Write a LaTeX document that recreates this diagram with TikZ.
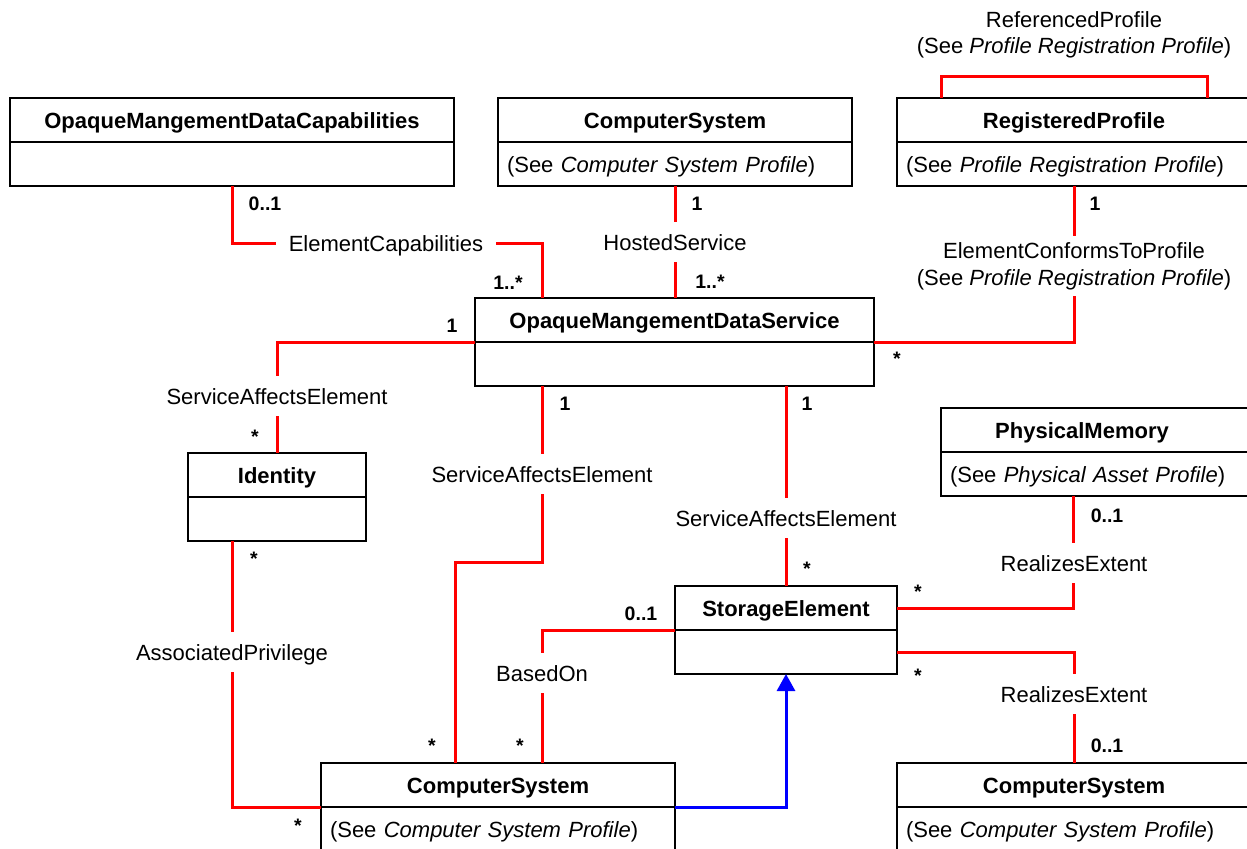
\documentclass[tikz,border=0pt]{standalone}
\usepackage{fontspec}
\setmainfont{Liberation Sans}
\usetikzlibrary{arrows.meta,calc}
\begin{document}
\begin{tikzpicture}[x=0.5pt,y=-0.5pt,
  hd/.style={draw=black, line width=1pt, anchor=north west, inner sep=0pt, outer sep=0pt, minimum height=22pt, text height=8pt, text depth=0pt, font=\fontsize{11}{13.5}\selectfont\bfseries},
  bd/.style={draw=black, line width=1pt, anchor=north west, inner xsep=4.5pt, inner ysep=0pt, outer sep=0pt, minimum height=22pt, text height=8pt, text depth=0pt, align=left, font=\fontsize{11}{13.5}\selectfont},
  assoc/.style={draw=red, line width=1.5pt},
  gen/.style={draw=blue, line width=1.5pt, -{Triangle[length=8.5pt,width=9pt]}},
  lbl/.style={fill=white, inner xsep=6.5pt, inner ysep=6pt, text height=8pt, text depth=0pt, font=\fontsize{11}{13.5}\selectfont},
  txt/.style={inner sep=0pt, text height=8pt, text depth=0pt, font=\fontsize{11}{13.5}\selectfont},
  mult/.style={inner sep=0pt, font=\fontsize{9.75}{12}\selectfont\bfseries}]
\useasboundingbox (0,0) rectangle (1247,848);
\clip (0,0) rectangle (1247,848);

% classes
\node[hd, minimum width=222pt] (omdcT) at (10,98) {OpaqueMangementDataCapabilities};
\node[bd, minimum width=222pt] (omdcB) at (omdcT.south west) {};

\node[hd, minimum width=177pt] (cs1T) at (498,98) {ComputerSystem};
\node[bd, text width=168pt] (cs1B) at (cs1T.south west) {(See \textit{Computer System Profile})};

\node[hd, minimum width=177pt] (rpT) at (897,98) {RegisteredProfile};
\node[bd, text width=168pt] (rpB) at (rpT.south west) {(See \textit{Profile Registration Profile})};

\node[hd, minimum width=199.5pt] (omdsT) at (475,298) {OpaqueMangementDataService};
\node[bd, minimum width=199.5pt] (omdsB) at (omdsT.south west) {};

\node[hd, minimum width=89pt] (idT) at (188,453) {Identity};
\node[bd, minimum width=89pt] (idB) at (idT.south west) {};

\node[hd, minimum width=155pt] (pmT) at (941,408) {};
\node[txt, font=\fontsize{11}{13.5}\selectfont\bfseries] (pmTitle) at (1082,430) {PhysicalMemory};
\node[bd, text width=146pt] (pmB) at (pmT.south west) {(See \textit{Physical Asset Profile})};

\node[hd, minimum width=111pt] (seT) at (675,586) {StorageElement};
\node[bd, minimum width=111pt] (seB) at (seT.south west) {};

\node[hd, minimum width=177pt] (cs2T) at (321,763) {ComputerSystem};
\node[bd, text width=168pt] (cs2B) at (cs2T.south west) {(See \textit{Computer System Profile})};

\node[hd, minimum width=177pt] (cs3T) at (897,763) {ComputerSystem};
\node[bd, text width=168pt] (cs3B) at (cs3T.south west) {(See \textit{Computer System Profile})};

% label coordinates
\coordinate (ecC) at (386,243);
\coordinate (hsC) at (675,242);
\coordinate (ectpC) at (1074,266);
\coordinate (sae1C) at (277,396);
\coordinate (sae2C) at (542,474);
\coordinate (sae3C) at (786,518);
\coordinate (apC) at (232,652);
\coordinate (boC) at (542,673);
\coordinate (re1C) at (1074,563);
\coordinate (re2C) at (1074,694);

% connectors
\draw[assoc] (omdcB.south) |- (ecC) -| ($(omdsT.north west)+(67,0)$);
\draw[assoc] (cs1B.south) -- (cs1B.south |- omdsT.north);
\draw[assoc] (rpB.south) |- (omdsT.south east);
\draw[assoc] (omdsT.south west) -| (idT.north);
\draw[assoc] ($(omdsB.south west)+(67,0)$) -- ++(0,176) -| ($(cs2T.north west)+(134,0)$);
\draw[assoc] ($(omdsB.south west)+(311,0)$) -- (seT.north);
\draw[assoc] ($(idB.south west)+(44,0)$) |- (cs2T.south west);
\draw[assoc] (seT.south west) -| ($(cs2T.north west)+(221,0)$);
\draw[assoc] (seT.east) -| ($(pmB.south west)+(132,0)$);
\draw[assoc] (seB.east) -| (cs3T.north);
\draw[assoc] ($(rpT.north west)+(44,0)$) -- ++(0,-22) -| ($(rpT.north west)+(310,0)$);
\draw[gen] (cs2T.south east) -| (seB.south);

% association labels
\node[lbl] (ecL) at (ecC) {ElementCapabilities};
\node[lbl] (hsL) at (hsC) {HostedService};
\node[fill=white, inner xsep=6.5pt, inner ysep=3pt, align=center, font=\fontsize{11}{13.5}\selectfont] (ectpL) at (ectpC) {ElementConformsToProfile\\(See \textit{Profile Registration Profile})};
\node[lbl] (sae1L) at (sae1C) {ServiceAffectsElement};
\node[lbl] (sae2L) at (sae2C) {ServiceAffectsElement};
\node[lbl] (sae3L) at (sae3C) {ServiceAffectsElement};
\node[lbl] (apL) at (apC) {AssociatedPrivilege};
\node[lbl] (boL) at (boC) {BasedOn};
\node[lbl] (re1L) at (re1C) {RealizesExtent};
\node[lbl] (re2L) at (re2C) {RealizesExtent};
\node[txt] (rfL1) at (1074,19) {ReferencedProfile};
\node[txt] (rfL2) at (1074,45) {(See \textit{Profile Registration Profile})};

% multiplicities
\node[mult] (m1) at (265,204) {0..1};
\node[mult] (m2) at (508,283) {1..*};
\node[mult] (m3) at (697,204) {1};
\node[mult] (m4) at (710,282) {1..*};
\node[mult] (m5) at (1095,204) {1};
\node[mult] (m6) at (897,359) {*};
\node[mult] (m7) at (452,326) {1};
\node[mult] (m8) at (255,437) {*};
\node[mult] (m9) at (565,404) {1};
\node[mult] (m10) at (807,404) {1};
\node[mult] (m11) at (807,569) {*};
\node[mult] (m12) at (254,559) {*};
\node[mult] (m13) at (298,826) {*};
\node[mult] (m14) at (432,746) {*};
\node[mult] (m15) at (520,746) {*};
\node[mult] (m16) at (641,614) {0..1};
\node[mult] (m17) at (918,592) {*};
\node[mult] (m18) at (1107,516) {0..1};
\node[mult] (m19) at (918,676) {*};
\node[mult] (m20) at (1107,746) {0..1};
\end{tikzpicture}
\end{document}
